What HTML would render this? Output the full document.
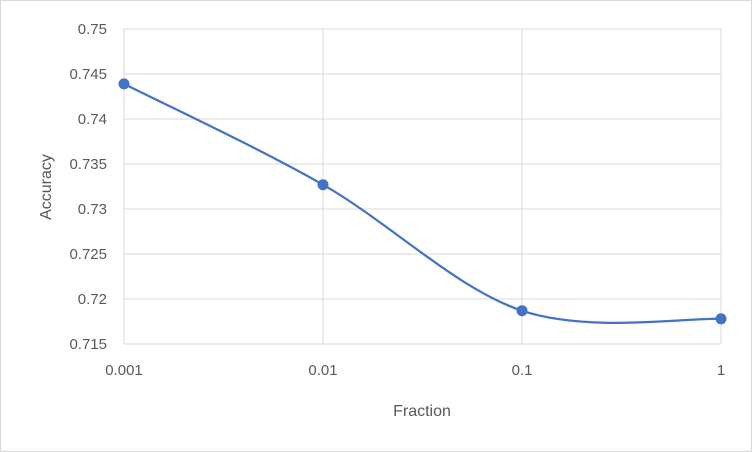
<!DOCTYPE html>
<html><head><meta charset="utf-8"><style>
html,body{margin:0;padding:0;background:#fff;}
svg{display:block;font-family:"Liberation Sans",Arial,sans-serif;}
</style></head><body>
<svg id="chart" width="752" height="452" viewBox="0 0 752 452">
<rect x="0.5" y="0.5" width="751" height="451" fill="#fff" stroke="#d9d9d9"/>
<g id="grid"></g>
<g id="yticks"></g>
<g id="xticks"></g>
<path id="line" fill="none" stroke="#4472c4" stroke-width="2.25"/>
<g id="points"></g>
<text x="422" y="416" text-anchor="middle" font-size="16" fill="#595959">Fraction</text>
<text transform="translate(51,187) rotate(-90)" text-anchor="middle" font-size="16" fill="#595959">Accuracy</text>
</svg>
<script>
const xCategories = [0.001, 0.01, 0.1, 1];
const xTickLabels = ["0.001", "0.01", "0.1", "1"];
const accuracyValues = [0.7439, 0.7327, 0.7187, 0.7178];
const yTicks = [0.715, 0.72, 0.725, 0.73, 0.735, 0.74, 0.745, 0.75];
const yTickLabels = ["0.715", "0.72", "0.725", "0.73", "0.735", "0.74", "0.745", "0.75"];

const NS = "http://www.w3.org/2000/svg";
const X0 = 124, X1 = 721, Y0 = 344, Y1 = 29;
const yMin = 0.715, yMax = 0.75;
function xs(v){ return X0 + (Math.log10(v) - Math.log10(xCategories[0])) / (Math.log10(xCategories[xCategories.length-1]) - Math.log10(xCategories[0])) * (X1 - X0); }
function ys(v){ return Y0 - (v - yMin) / (yMax - yMin) * (Y0 - Y1); }
function mk(tag, attrs, parent){ const e = document.createElementNS(NS, tag); for (const k in attrs) e.setAttribute(k, attrs[k]); parent.appendChild(e); return e; }

const grid = document.getElementById('grid');
const yt = document.getElementById('yticks');
const xt = document.getElementById('xticks');
yTicks.forEach((v, i) => {
  const l = mk('line', {x1: X0, x2: X1, y1: ys(v), y2: ys(v), stroke: '#d9d9d9', 'stroke-width': 1}, grid);
  
  
  const t = mk('text', {x: 107, y: ys(v) + 5, 'text-anchor': 'end', 'font-size': 15, fill: '#595959'}, yt);
  t.textContent = yTickLabels[i];
  
  
});
xCategories.forEach((v, i) => {
  const l = mk('line', {x1: xs(v), x2: xs(v), y1: Y1, y2: Y0, stroke: '#d9d9d9', 'stroke-width': 1}, grid);
  
  
  const t = mk('text', {x: xs(v), y: 375, 'text-anchor': 'middle', 'font-size': 15, fill: '#595959'}, xt);
  t.textContent = xTickLabels[i];
  
  
});

const pts = xCategories.map((v, i) => [xs(v), ys(accuracyValues[i])]);
let d = 'M' + pts[0][0] + ',' + pts[0][1];
for (let i = 0; i < pts.length - 1; i++) {
  const p0 = pts[i-1] || pts[i], p1 = pts[i], p2 = pts[i+1], p3 = pts[i+2] || p2;
  const c1 = [p1[0] + (p2[0]-p0[0])/6, p1[1] + (p2[1]-p0[1])/6];
  const c2 = [p2[0] - (p3[0]-p1[0])/6, p2[1] - (p3[1]-p1[1])/6];
  d += ' C' + c1 + ' ' + c2 + ' ' + p2;
}
document.getElementById('line').setAttribute('d', d);
const pg = document.getElementById('points');
pts.forEach(p => {
  const c = mk('circle', {cx: p[0], cy: p[1], r: 5, fill: '#4472c4', stroke: '#4472c4', 'stroke-width': 1}, pg);
  
  
});
</script>
</body></html>
